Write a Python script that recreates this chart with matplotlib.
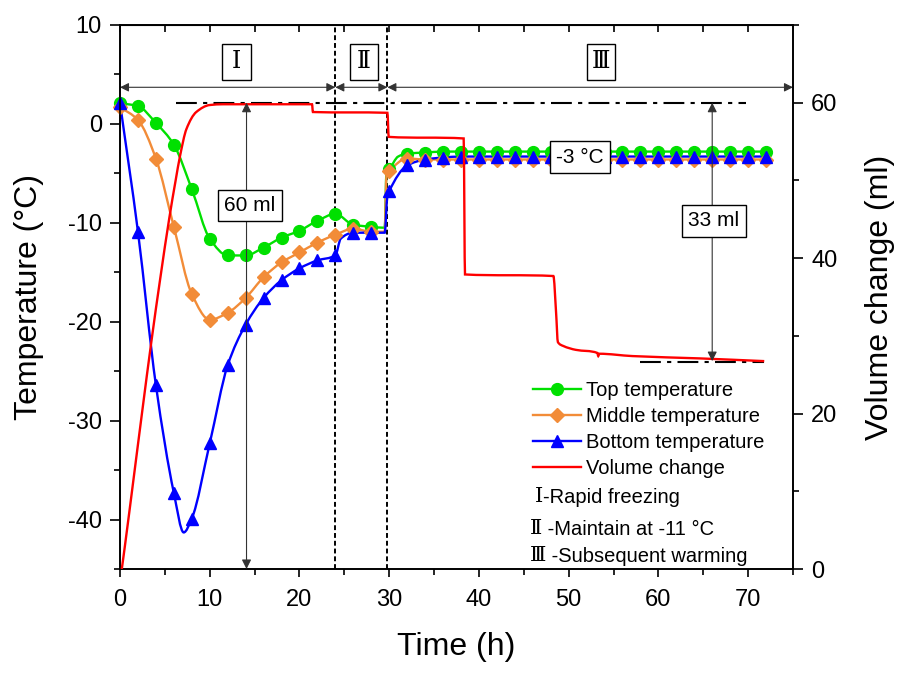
import numpy as np
import matplotlib
matplotlib.use("Agg")
import matplotlib.pyplot as plt
from matplotlib.path import Path
from matplotlib.patches import PathPatch, Rectangle
from matplotlib.lines import Line2D
from matplotlib.ticker import MultipleLocator

plt.rcParams['font.family'] = ['Liberation Sans', 'Noto Sans CJK SC', 'DejaVu Sans']
plt.rcParams['axes.unicode_minus'] = False
SERIF = ['Liberation Serif', 'DejaVu Serif', 'Noto Sans CJK SC']

# ----------------------------
# Data
# ----------------------------
# marker times (h), one symbol every 2 h
t_mark = [0, 2, 4, 6, 8, 10, 12, 14, 16, 18, 20, 22, 24, 26, 28, 30, 32, 34, 36, 38,
          40, 42, 44, 46, 48, 50, 52, 54, 56, 58, 60, 62, 64, 66, 68, 70, 72]

top_temp = [2.1, 1.8, 0.1, -2.1, -6.6, -11.6, -13.3, -13.3, -12.5, -11.5, -10.8, -9.8, -9.1,
            -10.2, -10.4, -4.6, -3.0, -2.9, -2.8, -2.8, -2.8, -2.8, -2.8, -2.8, -2.8, -2.8,
            -2.8, -2.8, -2.8, -2.8, -2.8, -2.8, -2.8, -2.8, -2.8, -2.8, -2.8]
mid_temp = [1.7, 0.4, -3.5, -10.4, -17.2, -19.8, -19.1, -17.6, -15.5, -14.0, -13.0, -12.0, -11.2,
            -10.6, -10.9, -4.8, -3.5, -3.6, -3.6, -3.6, -3.6, -3.6, -3.6, -3.6, -3.6, -3.6,
            -3.6, -3.6, -3.6, -3.6, -3.6, -3.6, -3.6, -3.6, -3.6, -3.6, -3.6]
bot_temp = [2.1, -10.9, -26.4, -37.3, -39.9, -32.3, -24.4, -20.3, -17.6, -15.8, -14.6, -13.8, -13.3,
            -11.0, -11.0, -6.8, -4.2, -3.6, -3.4, -3.3, -3.3, -3.3, -3.3, -3.3, -3.3, -3.3,
            -3.3, -3.3, -3.3, -3.3, -3.3, -3.3, -3.3, -3.3, -3.3, -3.3, -3.3]

# extra recorded points between symbols (minimum, step changes)
top_extra_t = [29.5, 29.7, 31.0]
top_extra_v = [-10.5, -4.9, -3.3]
mid_extra_t = [29.5, 29.7]
mid_extra_v = [-10.9, -5.2]
bot_extra_t = [7.1, 24.6, 29.5, 29.8]
bot_extra_v = [-41.3, -11.6, -11.0, -7.3]

# volume change (ml)
vol_t = [0.2, 0.55, 1.5, 2.5, 3.5, 4.5, 5.5, 6.2, 6.7, 7.4, 8.5, 10.0, 11.5, 21.4, 21.5,
         29.8, 29.95, 38.3, 38.45, 48.3, 48.6, 48.8, 49.4, 50.8, 53.2, 53.3, 53.4, 57.1, 64.6, 71.8]
vol_ml = [0.0, 3.0, 11.5, 20.5, 29.3, 37.5, 45.2, 50.0, 53.2, 56.6, 58.8, 59.7, 59.8, 59.8, 58.8,
          58.7, 55.6, 55.4, 37.9, 37.7, 33.0, 29.2, 28.7, 28.2, 27.8, 27.4, 27.7, 27.4, 27.1, 26.75]

phase_bounds = [0, 24, 29.8, 75]
phase_names = ['Ⅰ', 'Ⅱ', 'Ⅲ']
phase_label_t = [13.0, 27.2, 53.6]
phase_notes = ['-Rapid freezing', ' -Maintain at -11 °C', ' -Subsequent warming']

GREEN = '#00e000'
ORANGE = '#f28c38'
BLUE = '#0000ff'
RED = '#ff0000'


def smooth_path(x, y):
    # monotone cubic (PCHIP-style) tangents -> Bezier segments
    x = np.asarray(x, float)
    y = np.asarray(y, float)
    h = np.diff(x)
    d = np.diff(y) / h
    m = np.zeros_like(y)
    m[0], m[-1] = d[0], d[-1]
    for k in range(1, len(x) - 1):
        if d[k - 1] * d[k] > 0:
            w1 = 2 * h[k] + h[k - 1]
            w2 = h[k] + 2 * h[k - 1]
            m[k] = (w1 + w2) / (w1 / d[k - 1] + w2 / d[k])
    verts = [(x[0], y[0])]
    codes = [Path.MOVETO]
    for k in range(len(h)):
        verts += [(x[k] + h[k] / 3, y[k] + m[k] * h[k] / 3),
                  (x[k + 1] - h[k] / 3, y[k + 1] - m[k + 1] * h[k] / 3),
                  (x[k + 1], y[k + 1])]
        codes += [Path.CURVE4] * 3
    return Path(verts, codes)


def merge(t1, v1, t2, v2):
    t = np.concatenate([t1, t2])
    v = np.concatenate([v1, v2])
    order = np.argsort(t)
    return t[order], v[order]


fig = plt.figure(figsize=(9.05, 6.75), dpi=100)
ax = fig.add_axes([0.1326, 0.157, 0.7436, 0.806])
ax2 = ax.twinx()

series = [
    (top_temp, top_extra_t, top_extra_v, GREEN, 'o', 8.5, 'Top temperature'),
    (mid_temp, mid_extra_t, mid_extra_v, ORANGE, 'D', 7.0, 'Middle temperature'),
    (bot_temp, bot_extra_t, bot_extra_v, BLUE, '^', 9.0, 'Bottom temperature'),
]
handles = []
for vals, et, ev, col, mk, ms, lab in series:
    lt, lv = merge(t_mark, vals, et, ev)
    ax.add_patch(PathPatch(smooth_path(lt, lv), facecolor='none', edgecolor=col, lw=1.7, zorder=3))
    ax.plot(t_mark, vals, linestyle='none', marker=mk, ms=ms, color=col, mec=col, zorder=4, clip_on=False)
    handles.append(Line2D([], [], color=col, lw=1.7, marker=mk, ms=ms, mec=col))

ax2.add_patch(PathPatch(smooth_path(vol_t, vol_ml), facecolor='none', edgecolor=RED, lw=1.7, zorder=3))
handles.append(Line2D([], [], color=RED, lw=1.7))

# axes ranges and ticks
ax.set_xlim(0, 75)
ax.set_ylim(-45, 10)
ax2.set_ylim(0, 70)
ax.xaxis.set_major_locator(MultipleLocator(10))
ax.xaxis.set_minor_locator(MultipleLocator(5))
ax.yaxis.set_major_locator(MultipleLocator(10))
ax.yaxis.set_minor_locator(MultipleLocator(5))
ax2.yaxis.set_major_locator(MultipleLocator(20))
ax2.yaxis.set_minor_locator(MultipleLocator(10))
for a in (ax, ax2):
    a.tick_params(which='major', direction='out', length=7, width=1.2, labelsize=17, pad=6)
    a.tick_params(which='minor', direction='out', length=4, width=1.2)
    for s in a.spines.values():
        s.set_linewidth(1.2)
ax.tick_params(axis='x', which='major', length=5.5, pad=9)

top = ax.secondary_xaxis('top')
top.set_xticks(np.arange(0, 71, 5))
top.tick_params(direction='in', length=5, width=1.2, labeltop=False)
top.xaxis.set_minor_locator(plt.NullLocator())

ax.set_xlabel('Time (h)', fontsize=23, labelpad=15)
ax.set_ylabel('Temperature (°C)', fontsize=23, labelpad=17)
ax2.set_ylabel('Volume change (ml)', fontsize=23, labelpad=20)

# phase separators and arrows
for xb in phase_bounds[1:3]:
    ax.axvline(xb, color='k', lw=1.4, linestyle=(0, (2.5, 1.5)), zorder=2)
for i in range(3):
    ax.annotate('', xy=(phase_bounds[i], 3.7), xytext=(phase_bounds[i + 1], 3.7),
                arrowprops=dict(arrowstyle='<|-|>', color='#333333', lw=0.8,
                                mutation_scale=13, shrinkA=0, shrinkB=0),
                annotation_clip=False)
    ax.add_patch(Rectangle((phase_label_t[i] - 1.6, 4.47), 3.2, 3.56,
                           fc='white', ec='k', lw=1, zorder=5))
    ax.text(phase_label_t[i], 6.25, phase_names[i], fontsize=17, ha='center', va='center',
            family=SERIF, zorder=6)

# volume reference lines and arrows
dashdot = (0, (10, 3, 2, 3))
ax2.plot([6.2, 69.8], [60, 60], color='k', lw=1.5, linestyle=dashdot, zorder=2)
ax2.plot([57.9, 71.8], [26.6, 26.6], color='k', lw=1.5, linestyle=dashdot, zorder=2)
ax2.annotate('', xy=(14.1, 60), xytext=(14.1, 0),
             arrowprops=dict(arrowstyle='<|-|>', color='#333333', lw=0.8,
                             mutation_scale=14, shrinkA=0, shrinkB=0))
ax2.annotate('', xy=(66.0, 60), xytext=(66.0, 26.75),
             arrowprops=dict(arrowstyle='<|-|>', color='#333333', lw=0.8,
                             mutation_scale=14, shrinkA=0, shrinkB=0))

box = dict(boxstyle='square,pad=0.3', fc='white', ec='k', lw=1)
ax2.text(14.5, 46.8, '60 ml', fontsize=15, ha='center', va='center', bbox=box, zorder=6)
ax2.text(66.2, 44.8, '33 ml', fontsize=15, ha='center', va='center', bbox=box, zorder=6)
ax2.text(51.3, 53.0, '-3 °C', fontsize=15, ha='center', va='center', bbox=box, zorder=6)

leg = ax2.legend(handles, [s[-1] for s in series] + ['Volume change'],
                 loc='upper left', bbox_to_anchor=(0.6137, 0.3456), frameon=False,
                 fontsize=14.5, borderaxespad=0, borderpad=0, handlelength=2.4,
                 handletextpad=0.25, labelspacing=0.35)

note_y = [0.132, 0.0735, 0.0239]
note_x = [0.6166, 0.6092, 0.6092]
for y, x, mark, note in zip(note_y, note_x, phase_names, phase_notes):
    t = ax2.text(x, y, mark, transform=ax2.transAxes, fontsize=15, ha='left', va='center',
                 family=SERIF)
    ax2.annotate(note, xy=(1, 0.5), xycoords=t, xytext=(0, 0), textcoords='offset points',
                 fontsize=14.5, ha='left', va='center')

fig.savefig('out.png', dpi=100)
